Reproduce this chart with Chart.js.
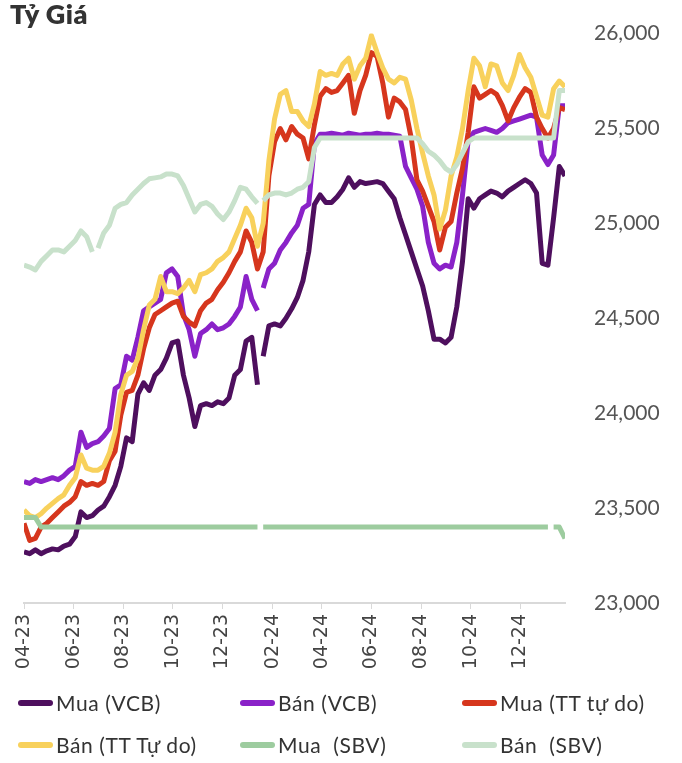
<!DOCTYPE html>
<html>
<head>
<meta charset="utf-8">
<script src="https://cdn.jsdelivr.net/npm/chart.js@4.4.1/dist/chart.umd.min.js"></script>
<style>
  html, body { margin: 0; padding: 0; background: #fff; }
  #wrap { position: relative; width: 682px; height: 763px; font-family: Lato, "Open Sans", sans-serif; }
  #title { position: absolute; left: 10px; top: -3px; font-weight: 800; font-size: 27px; color: #333; letter-spacing: 0.5px; }
  #chartBox { position: absolute; left: 0; top: 0; width: 682px; height: 690px; }
  #legend { position: absolute; left: 18px; top: 689px; display: grid; grid-template-columns: 222px 222px 222px; row-gap: 15px; }
  .item { display: flex; align-items: center; font-size: 21px; line-height: 27px; color: #333; white-space: pre; letter-spacing: 0.6px; }
  .swatch { width: 35px; height: 6px; border-radius: 3px; margin-right: 3px; }
</style>
</head>
<body>
<div id="wrap">
  <div id="chartBox"><canvas id="rateChart"></canvas></div>
  <div id="title">Tỷ Giá</div>
  <div id="legend"></div>
</div>
<script>
"use strict";

// DATA -----------------------
// weekly readings starting from startDate
const startDate = '2023-04-01';
const stepDays = 7;

const seriesNames = ['Mua (VCB)', 'Bán (VCB)', 'Mua (TT tự do)', 'Bán (TT Tự do)', 'Mua  (SBV)', 'Bán  (SBV)'];
const seriesColors = ['#4e0f5e', '#8a22c8', '#d6361d', '#f8d15c', '#9dcc9f', '#c8e1cb'];

const muaVCB = [
  23270, 23260, 23280, 23260, 23275, 23285, 23280, 23300, 23310, 23350,
  23480, 23450, 23460, 23490, 23510, 23560, 23620, 23720, 23870, 23850,
  24100, 24160, 24120, 24200, 24230, 24290, 24370, 24380, 24200, 24080,
  23930, 24040, 24050, 24040, 24060, 24050, 24080, 24200, 24230, 24380,
  24400, 24150, 24300, 24460, 24470, 24460, 24500, 24550, 24610, 24700,
  24850, 25100, 25150, 25110, 25110, 25140, 25180, 25240, 25190, 25220,
  25210, 25215, 25220, 25210, 25170, 25130, 25030, 24940, 24850, 24760,
  24670, 24540, 24390, 24390, 24370, 24400, 24560, 24800, 25130, 25080,
  25130, 25150, 25170, 25160, 25140, 25170, 25190, 25210, 25230, 25210,
  25160, 24790, 24780, 25030, 25300, 25250
];

const banVCB = [
  23640, 23630, 23650, 23640, 23650, 23660, 23650, 23670, 23700, 23720,
  23900, 23820, 23840, 23850, 23880, 23920, 24130, 24150, 24300, 24280,
  24400, 24540, 24560, 24580, 24600, 24740, 24760, 24720, 24520, 24440,
  24300, 24420, 24440, 24470, 24440, 24450, 24470, 24510, 24560, 24720,
  24600, 24540, 24660, 24760, 24790, 24860, 24900, 24950, 24990, 25080,
  25100, 25420, 25470, 25470, 25475, 25470, 25465, 25475, 25470, 25465,
  25470, 25470, 25475, 25470, 25470, 25465, 25460, 25300, 25240, 25180,
  25090, 24900, 24790, 24760, 24780, 24770, 24900, 25150, 25440, 25480,
  25490, 25500, 25490, 25480, 25500, 25530, 25540, 25550, 25560, 25570,
  25560, 25360, 25310, 25360, 25620, 25620
];

const muaTT = [
  23420, 23330, 23340, 23400, 23420, 23450, 23480, 23510, 23530, 23560,
  23640, 23620, 23630, 23620, 23640, 23750, 23800, 23990, 24110, 24120,
  24200, 24340, 24450, 24520, 24540, 24560, 24580, 24590, 24510, 24480,
  24460, 24540, 24580, 24600, 24650, 24690, 24740, 24800, 24850, 24960,
  24900, 24760, 24850, 25250, 25430, 25500, 25440, 25510, 25470, 25450,
  25340, 25520, 25670, 25710, 25690, 25700, 25740, 25780, 25580, 25700,
  25780, 25900, 25880, 25740, 25560, 25660, 25640, 25600, 25450, 25230,
  25170, 25090, 25010, 24860, 24980, 25010, 25160, 25290, 25480, 25720,
  25660, 25680, 25700, 25680, 25620, 25540, 25610, 25665, 25710, 25690,
  25560, 25500, 25450, 25500, 25610, 25600
];

const banTT = [
  23490, 23460, 23450, 23470, 23500, 23525, 23550, 23570, 23620, 23660,
  23780, 23710, 23700, 23700, 23720, 23790, 23900, 24100, 24200, 24220,
  24290, 24440, 24570, 24600, 24720, 24640, 24640, 24630, 24660, 24700,
  24640, 24730, 24740, 24760, 24800, 24820, 24850, 24920, 24990, 25080,
  25030, 24880, 25000, 25330, 25550, 25680, 25700, 25590, 25590, 25540,
  25510, 25630, 25800, 25780, 25790, 25780, 25840, 25870, 25760, 25830,
  25870, 25990, 25900, 25820, 25760, 25740, 25770, 25760, 25650, 25500,
  25370, 25250, 25150, 24970, 25070, 25250, 25350, 25500, 25700, 25870,
  25830, 25720, 25840, 25830, 25740, 25700, 25780, 25890, 25820, 25770,
  25670, 25570, 25560, 25710, 25750, 25720
];

const muaSBV = [
  23450, 23450, 23450, 23400, 23400, 23400, 23400, 23400, 23400, 23400,
  23400, 23400, 23400, 23400, 23400, 23400, 23400, 23400, 23400, 23400,
  23400, 23400, 23400, 23400, 23400, 23400, 23400, 23400, 23400, 23400,
  23400, 23400, 23400, 23400, 23400, 23400, 23400, 23400, 23400, 23400,
  23400, 23400, 23400, 23400, 23400, 23400, 23400, 23400, 23400, 23400,
  23400, 23400, 23400, 23400, 23400, 23400, 23400, 23400, 23400, 23400,
  23400, 23400, 23400, 23400, 23400, 23400, 23400, 23400, 23400, 23400,
  23400, 23400, 23400, 23400, 23400, 23400, 23400, 23400, 23400, 23400,
  23400, 23400, 23400, 23400, 23400, 23400, 23400, 23400, 23400, 23400,
  23400, 23400, 23400, 23400, 23400, 23340
];

const banSBV = [
  24780, 24770, 24755, 24800, 24830, 24860, 24860, 24850, 24880, 24910,
  24960, 24930, 24850, 24870, 24950, 24990, 25080, 25100, 25110, 25150,
  25180, 25210, 25235, 25240, 25245, 25260, 25260, 25250, 25200, 25130,
  25060, 25100, 25110, 25090, 25050, 25020, 25060, 25120, 25190, 25180,
  25140, 25105, 25120, 25150, 25160, 25160, 25150, 25160, 25180, 25190,
  25220, 25400, 25450, 25450, 25450, 25450, 25450, 25450, 25450, 25450,
  25450, 25450, 25450, 25450, 25450, 25450, 25450, 25450, 25450, 25450,
  25420, 25380, 25360, 25330, 25290, 25270, 25310, 25370, 25430, 25450,
  25450, 25450, 25450, 25450, 25450, 25450, 25450, 25450, 25450, 25450,
  25450, 25450, 25450, 25450, 25700, 25700
];

// weeks after which a series has missing data (a break in the line)
const gapsVCB = [41];
const gapsMuaSBV = [41, 92];
const gapsBanSBV = [12, 41];

const tickDates = ['2023-04-01', '2023-06-01', '2023-08-01', '2023-10-01', '2023-12-01', '2024-02-01',
  '2024-04-01', '2024-06-01', '2024-08-01', '2024-10-01', '2024-12-01'];
const tickLabels = ['04-23', '06-23', '08-23', '10-23', '12-23', '02-24', '04-24', '06-24', '08-24', '10-24', '12-24'];

const yTicks = [23000, 23500, 24000, 24500, 25000, 25500, 26000];

// FUNCTIONS -----------------------

// days since the start date
function dayOf(dateStr) {
  return (Date.parse(dateStr) - Date.parse(startDate)) / 86400000;
}

function toPoints(values) {
  return values.map((v, i) => ({ x: i * stepDays, y: v }));
}

function makeDataset(idx, values, gaps) {
  return {
    label: seriesNames[idx],
    data: toPoints(values),
    borderColor: seriesColors[idx],
    backgroundColor: seriesColors[idx],
    borderWidth: 5,
    borderJoinStyle: 'round',
    pointRadius: 0,
    tension: 0,
    order: seriesNames.length - idx,
    segment: {
      borderColor: ctx => gaps.includes(ctx.p0DataIndex) ? 'rgba(0,0,0,0)' : undefined
    }
  };
}

// Build the html legend in a 3 column grid
function buildLegend() {
  const box = document.getElementById('legend');
  seriesNames.forEach((name, i) => {
    const item = document.createElement('div');
    item.className = 'item';
    item.innerHTML = `<span class="swatch" style="background:${seriesColors[i]}"></span>${name}`;
    box.appendChild(item);
  });
}

const lastDay = (muaVCB.length - 1) * stepDays;

const rateChart = new Chart(document.getElementById('rateChart'), {
  type: 'line',
  data: {
    datasets: [
      makeDataset(0, muaVCB, gapsVCB),
      makeDataset(1, banVCB, gapsVCB),
      makeDataset(2, muaTT, []),
      makeDataset(3, banTT, []),
      makeDataset(4, muaSBV, gapsMuaSBV),
      makeDataset(5, banSBV, gapsBanSBV)
    ]
  },
  options: {
    responsive: true,
    maintainAspectRatio: false,
    animation: false,
    layout: { padding: { left: 24, top: 33, right: 0, bottom: 0 } },
    plugins: {
      legend: { display: false },
      tooltip: { enabled: false }
    },
    scales: {
      x: {
        type: 'linear',
        min: 0,
        max: lastDay,
        afterBuildTicks: axis => {
          axis.ticks = tickDates.map(d => ({ value: dayOf(d) }));
        },
        afterFit: scale => { scale.height = 87; },
        ticks: {
          autoSkip: false,
          minRotation: 90,
          maxRotation: 90,
          padding: 5,
          color: '#444',
          font: { family: 'DejaVu Sans', size: 19 },
          callback: (value, index) => tickLabels[index]
        },
        grid: { drawOnChartArea: false, drawTicks: true, tickLength: 6, color: '#d9d9d9' },
        border: { display: true, color: '#d9d9d9', width: 2 }
      },
      y: {
        position: 'right',
        min: yTicks[0],
        max: yTicks[yTicks.length - 1],
        afterBuildTicks: axis => {
          axis.ticks = yTicks.map(v => ({ value: v }));
        },
        afterFit: scale => { scale.width = 117; },
        ticks: {
          padding: 21,
          color: '#555',
          font: { family: 'Lato', size: 21 },
          callback: value => value.toLocaleString('en-US')
        },
        grid: { display: false },
        border: { display: false }
      }
    }
  }
});

buildLegend();
</script>
</body>
</html>
